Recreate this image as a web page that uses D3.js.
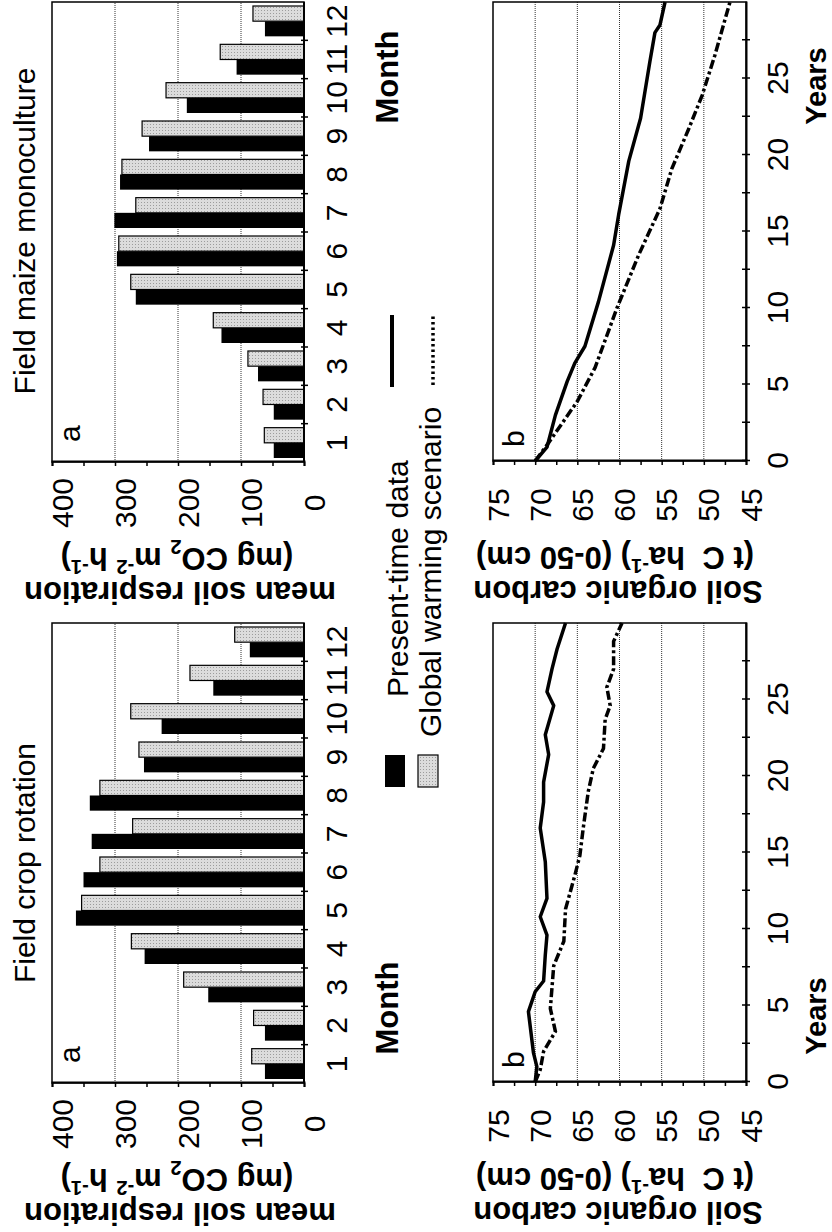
<!DOCTYPE html>
<html>
<head>
<meta charset="utf-8">
<script src="https://cdn.jsdelivr.net/npm/d3@7"></script>
<style>
  body { margin: 0; background: #fff; }
  svg { display: block; font-family: 'Liberation Sans', Arial, Helvetica, sans-serif; }
</style>
</head>
<body>
<div id="chart"></div>
<script>
// monthly mean soil respiration (mg CO2 m-2 h-1)
const months = ['1', '2', '3', '4', '5', '6', '7', '8', '9', '10', '11', '12'];
const cropPresent = [62, 62, 152, 253, 362, 350, 337, 340, 254, 226, 144, 86];
const cropWarming = [83, 80, 191, 274, 353, 324, 272, 324, 262, 275, 181, 110];
const maizePresent = [48, 48, 73, 131, 267, 297, 301, 292, 246, 186, 107, 62];
const maizeWarming = [63, 65, 89, 144, 275, 294, 267, 289, 257, 219, 133, 81];

// soil organic carbon (t C ha-1, 0-50 cm) over the years
const cropPresentYears = [0, 1, 1.9, 4.6, 5.9, 6.6, 8.3, 9.6, 10.8, 12, 14.4, 16.6, 18.3, 19.6, 21.4, 22.7, 24.6, 25.5, 27, 28.3, 30];
const cropPresentSoc = [70, 69.8, 70.2, 70.8, 70, 69, 68.8, 68.6, 69.4, 68.6, 68.8, 69.4, 69, 69, 68.4, 68.8, 67.8, 68.6, 68, 67.4, 66.4];
const cropWarmingYears = [0, 0.8, 2, 3.3, 4.8, 7.6, 9.2, 11.3, 13.5, 14.8, 16.6, 19, 20.5, 21.8, 23.7, 24.6, 25.8, 27, 28.8, 30];
const cropWarmingSoc = [70, 69.4, 69, 67.6, 68.2, 67.8, 66.6, 66.4, 65.3, 64.7, 64.3, 63.7, 63.1, 61.9, 61.7, 61.1, 61.5, 60.7, 60.7, 59.7];
const maizePresentYears = [0, 0.9, 3, 5.2, 6.4, 7.5, 10.4, 14.1, 16.1, 19.6, 22.4, 26.1, 28, 28.5, 30];
const maizePresentSoc = [70, 68.6, 67.6, 66.2, 65.3, 64.1, 62.5, 60.7, 60.1, 58.9, 57.5, 56.4, 55.8, 55.2, 54.6];
const maizeWarmingYears = [0, 1.2, 3.9, 6.1, 10, 13.5, 16.5, 19.1, 21.7, 23.9, 26.5, 30];
const maizeWarmingSoc = [70, 68.4, 65, 62.9, 60.3, 57.7, 55.2, 53.8, 51.8, 50.2, 48.7, 46.9];

const barTicks = d3.range(0, 401, 50);
const socTicks = d3.range(45, 75.1, 2.5);
const yearTicks = d3.range(0, 30, 2.5);
const legendLabels = ['Present-time data', 'Global warming scenario'];

const W = 832;
const H = 1232;

const svg = d3.select('#chart')
  .append('svg')
  .attr('width', W)
  .attr('height', H)
  .style('background', '#fff');

// stippled grey fill of the warming bars
const pat = svg.append('defs').append('pattern')
  .attr('id', 'stipple')
  .attr('width', 3)
  .attr('height', 3)
  .attr('patternUnits', 'userSpaceOnUse');
pat.append('rect').attr('width', 3).attr('height', 3).attr('fill', '#dcdcdc');
pat.append('rect').attr('width', 1).attr('height', 1).attr('fill', '#9c9c9c');

// the page is printed sideways: draw it landscape and turn a quarter left
const fig = svg.append('g')
  .attr('transform', `translate(0,${H}) rotate(-90)`);

const gridStyle = (sel) => sel
  .attr('stroke', '#333')
  .attr('stroke-width', 1)
  .attr('stroke-dasharray', '1 1');

// two line axis title, second line with sub/superscripts ([text, shift])
function yTitle(x0, cy, line1, line2Parts) {
  fig.append('text')
    .attr('transform', `translate(${x0 - 120},${cy}) rotate(-90)`)
    .attr('text-anchor', 'middle')
    .attr('font-size', 31)
    .attr('font-weight', 'bold')
    .text(line1);

  const t = fig.append('text')
    .attr('transform', `translate(${x0 - 86},${cy - 3}) rotate(-90)`)
    .attr('text-anchor', 'middle')
    .attr('font-size', 31)
    .attr('font-weight', 'bold');
  let prevShift = 0;
  line2Parts.forEach(([s, shift = 0]) => {
    const ts = t.append('tspan').text(s);
    if (shift - prevShift !== 0) ts.attr('dy', shift - prevShift);
    if (shift) ts.attr('font-size', 20);
    prevShift = shift;
  });
}

function drawBars(p) {
  const x = d3.scaleBand().domain(months).range([p.x0, p.x0 + 460]);
  const y = d3.scaleLinear().domain([0, 400]).range([304, 52]);
  const xs = d3.scaleBand().domain(['present', 'warming']).range([4, x.bandwidth() - 4]);

  const g = fig.append('g');

  g.selectAll('.grid')
    .data([100, 200, 300])
    .join('line')
    .attr('x1', p.x0)
    .attr('x2', p.x0 + 460)
    .attr('y1', (d) => y(d))
    .attr('y2', (d) => y(d))
    .call(gridStyle);

  g.selectAll('.present')
    .data(p.present)
    .join('rect')
    .attr('x', (d, i) => x(months[i]) + xs('present'))
    .attr('y', (d) => y(d))
    .attr('width', xs.bandwidth())
    .attr('height', (d) => y(0) - y(d))
    .attr('fill', '#000');

  g.selectAll('.warming')
    .data(p.warming)
    .join('rect')
    .attr('x', (d, i) => x(months[i]) + xs('warming'))
    .attr('y', (d) => y(d))
    .attr('width', xs.bandwidth())
    .attr('height', (d) => y(0) - y(d))
    .attr('fill', 'url(#stipple)')
    .attr('stroke', '#000')
    .attr('stroke-width', 1.2);

  g.append('rect')
    .attr('x', p.x0)
    .attr('y', 52)
    .attr('width', 460)
    .attr('height', 252)
    .attr('fill', 'none')
    .attr('stroke', '#000')
    .attr('stroke-width', 1.5);

  // value axis
  g.append('g')
    .attr('transform', `translate(${p.x0},0)`)
    .call(d3.axisLeft(y).tickValues(barTicks).tickSize(4).tickFormat((d) => d % 100 === 0 ? d : ''))
    .call((a) => a.attr('font-size', 30).attr('font-family', null))
    .call((a) => a.select('.domain').attr('stroke-width', 2))
    .call((a) => a.selectAll('.tick line').attr('stroke-width', 1.5))
    .call((a) => a.selectAll('text').filter((d) => d % 100 !== 0).remove())
    .call((a) => a.selectAll('text')
      .attr('x', -41)
      .attr('dy', 20)
      .attr('text-anchor', 'middle'));

  // month axis
  g.append('line')
    .attr('x1', p.x0).attr('x2', p.x0 + 460)
    .attr('y1', 304).attr('y2', 304)
    .attr('stroke', '#000').attr('stroke-width', 2);
  g.selectAll('.mtick')
    .data(months.slice(1))
    .join('line')
    .attr('x1', (d) => x(d))
    .attr('x2', (d) => x(d))
    .attr('y1', 301)
    .attr('y2', 308)
    .attr('stroke', '#000')
    .attr('stroke-width', 1.5);
  g.selectAll('.mlabel')
    .data(months)
    .join('text')
    .attr('x', (d) => x(d) + x.bandwidth() / 2)
    .attr('y', 347)
    .attr('text-anchor', 'middle')
    .attr('font-size', 30)
    .text((d) => d);

  g.append('text')
    .attr('x', p.monthX).attr('y', 398)
    .attr('text-anchor', 'middle')
    .attr('font-size', 31).attr('font-weight', 'bold')
    .text('Month');

  g.append('text')
    .attr('x', p.titleX).attr('y', 35)
    .attr('text-anchor', 'middle')
    .attr('font-size', 30)
    .text(p.title);

  g.append('text')
    .attr('x', p.x0 + 20).attr('y', 80)
    .attr('font-size', 30)
    .text('a');

  yTitle(p.x0, 180, 'mean soil respiration',
    [['(mg CO'], ['2', 8], [' m'], ['-2', -12], [' h'], ['-1', -12], [')']]);
}

function drawLines(p) {
  const x = d3.scaleLinear().domain([0, 30]).range([p.x0, p.x0 + 459]);
  const y = d3.scaleLinear().domain([45, 75]).range([746, 493]);

  const g = fig.append('g');

  g.selectAll('.grid')
    .data([70, 65, 60, 55, 50])
    .join('line')
    .attr('x1', p.x0)
    .attr('x2', p.x0 + 459)
    .attr('y1', (d) => y(d))
    .attr('y2', (d) => y(d))
    .call(gridStyle);

  g.append('rect')
    .attr('x', p.x0).attr('y', 493)
    .attr('width', 459).attr('height', 253)
    .attr('fill', 'none')
    .attr('stroke', '#000')
    .attr('stroke-width', 1.5);

  const line = d3.line()
    .x((d) => x(d[0]))
    .y((d) => y(d[1]));

  g.append('path')
    .datum(d3.zip(p.presentYears, p.presentSoc))
    .attr('d', line)
    .attr('fill', 'none')
    .attr('stroke', '#000')
    .attr('stroke-width', 3.5)
    .attr('stroke-linejoin', 'round');

  g.append('path')
    .datum(d3.zip(p.warmingYears, p.warmingSoc))
    .attr('d', line)
    .attr('fill', 'none')
    .attr('stroke', '#000')
    .attr('stroke-width', 3.5)
    .attr('stroke-dasharray', '9 3 3 3');

  // value axis
  g.append('g')
    .attr('transform', `translate(${p.x0},0)`)
    .call(d3.axisLeft(y).tickValues(socTicks).tickSize(4).tickFormat((d) => d % 5 === 0 ? d : ''))
    .call((a) => a.attr('font-size', 30).attr('font-family', null))
    .call((a) => a.select('.domain').attr('stroke-width', 2))
    .call((a) => a.selectAll('.tick line').attr('stroke-width', 1.5))
    .call((a) => a.selectAll('text').filter((d) => d % 5 !== 0).remove())
    .call((a) => a.selectAll('text')
      .attr('x', -44)
      .attr('dy', 15)
      .attr('text-anchor', 'middle'));

  // years axis
  g.append('g')
    .attr('transform', 'translate(0,746)')
    .call(d3.axisBottom(x).tickValues(yearTicks).tickSizeInner(4).tickSizeOuter(0)
      .tickFormat((d) => d % 5 === 0 ? d : ''))
    .call((a) => a.attr('font-size', 30).attr('font-family', null))
    .call((a) => a.select('.domain').attr('stroke-width', 2))
    .call((a) => a.selectAll('.tick line').attr('y1', -4).attr('stroke-width', 1.5))
    .call((a) => a.selectAll('text').filter((d) => d % 5 !== 0).remove())
    .call((a) => a.selectAll('text').attr('y', 42).attr('dy', null));

  g.append('text')
    .attr('x', p.yearsX).attr('y', 826)
    .attr('text-anchor', 'middle')
    .attr('font-size', 29).attr('font-weight', 'bold')
    .text('Years');

  g.append('text')
    .attr('x', p.x0 + 14).attr('y', 524)
    .attr('font-size', 30)
    .text('b');

  yTitle(p.x0, 618, 'Soil organic carbon',
    [['(t C\u00a0 ha'], ['-1', -12], [') (0-50 cm)']]);
}

drawBars({ title: 'Field crop rotation', titleX: 369, x0: 149, monthX: 224, present: cropPresent, warming: cropWarming });
drawBars({ title: 'Field maize monoculture', titleX: 1001, x0: 770, monthX: 1155, present: maizePresent, warming: maizeWarming });

drawLines({ x0: 150, yearsX: 216,
  presentYears: cropPresentYears, presentSoc: cropPresentSoc,
  warmingYears: cropWarmingYears, warmingSoc: cropWarmingSoc });
drawLines({ x0: 771, yearsX: 1146,
  presentYears: maizePresentYears, presentSoc: maizePresentSoc,
  warmingYears: maizeWarmingYears, warmingSoc: maizeWarmingSoc });

// legend
const lg = fig.append('g');
lg.append('rect').attr('x', 445).attr('y', 385).attr('width', 32).attr('height', 20).attr('fill', '#000');
lg.append('rect').attr('x', 445).attr('y', 418).attr('width', 32).attr('height', 20)
  .attr('fill', 'url(#stipple)').attr('stroke', '#000').attr('stroke-width', 1.2);
lg.append('text').attr('x', 535).attr('y', 408).attr('font-size', 30).text(legendLabels[0]);
lg.append('text').attr('x', 495).attr('y', 441).attr('font-size', 30).text(legendLabels[1]);
lg.append('line').attr('x1', 845).attr('x2', 917).attr('y1', 392).attr('y2', 392)
  .attr('stroke', '#000').attr('stroke-width', 4);
lg.append('line').attr('x1', 847).attr('x2', 917).attr('y1', 433).attr('y2', 433)
  .attr('stroke', '#000').attr('stroke-width', 3.5).attr('stroke-dasharray', '2.5 3');
</script>
</body>
</html>
